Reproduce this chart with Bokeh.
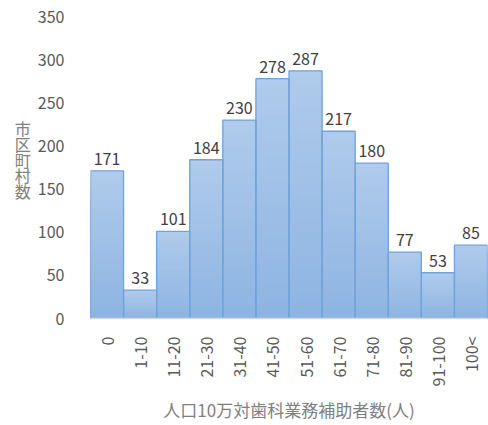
from bokeh.plotting import figure
from bokeh.models import FactorRange, Range1d, ColumnDataSource
from bokeh.embed import file_html
from bokeh.resources import INLINE
import math

categories = ["0", "1-10", "11-20", "21-30", "31-40", "41-50", "51-60",
              "61-70", "71-80", "81-90", "91-100", "100<"]
counts = [171, 33, 101, 184, 230, 278, 287, 217, 180, 77, 53, 85]
y_ticks = [0, 50, 100, 150, 200, 250, 300, 350]

JP = "Noto Sans CJK JP"
TICK = "#595959"
TITLE = "#808080"

p = figure(width=488, height=425, x_range=FactorRange(*categories),
           y_range=Range1d(0, 350), output_backend="svg",
           toolbar_location=None, min_border_left=90, min_border_right=1,
           min_border_top=16, min_border_bottom=105)
p.outline_line_color = None
p.xgrid.grid_line_color = None
p.ygrid.grid_line_color = None
p.background_fill_color = "white"

# vertical gradient per bar, lighter at the top and darker at the base;
# drawn tallest slice first so each shorter slice overlays the one below
top_rgb = (176, 203, 235)
bot_rgb = (141, 180, 226)
steps = 40
gx, gt, gc = [], [], []
for k in reversed(range(steps)):
    f1 = (k + 1) / steps
    fm = (k + 0.5) / steps
    r, g, b = (round(bot_rgb[j] + (top_rgb[j] - bot_rgb[j]) * fm) for j in range(3))
    for cat, v in zip(categories, counts):
        gx.append(cat)
        gt.append(v * f1)
        gc.append("#%02x%02x%02x" % (r, g, b))
p.vbar(x=gx, bottom=0, top=gt, width=1.0, fill_color=gc, line_color=None)
p.vbar(x=categories, top=counts, width=1.0, fill_color=None,
       line_color="#6fa3dc", line_width=1.3)

# value labels above each bar
src = ColumnDataSource(dict(x=categories, y=counts, t=[str(c) for c in counts]))
p.text(x="x", y="y", text="t", source=src, text_align="center",
       text_baseline="alphabetic", y_offset=-12, text_font_size="16px",
       text_color="#404040", text_font={"value": JP})

# axes
p.yaxis.ticker = y_ticks
p.yaxis.axis_line_color = None
p.yaxis.major_tick_line_color = None
p.yaxis.minor_tick_line_color = None
p.yaxis.major_label_text_font = JP
p.yaxis.major_label_text_font_size = "16px"
p.yaxis.major_label_text_color = TICK
p.yaxis.major_label_standoff = 20
# stacked vertical title (one character per line)
p.yaxis.axis_label = "市\n区\n町\n村\n数\n "
p.yaxis.axis_label_orientation = "horizontal"
p.yaxis.axis_label_text_font = JP
p.yaxis.axis_label_text_font_style = "normal"
p.yaxis.axis_label_text_font_size = "16px"
p.yaxis.axis_label_text_line_height = 0.66
p.yaxis.axis_label_text_color = TITLE
p.yaxis.axis_label_standoff = 4

p.xaxis.axis_line_color = "#d9d9d9"
p.xaxis.axis_line_width = 1.5
p.xaxis.major_tick_line_color = None
p.xaxis.minor_tick_line_color = None
p.xaxis.major_label_orientation = math.pi / 2
p.xaxis.major_label_text_font = JP
p.xaxis.major_label_text_font_size = "16px"
p.xaxis.major_label_text_color = TICK
p.xaxis.major_label_standoff = 12
p.xaxis.axis_label = "人口10万対歯科業務補助者数(人)"
p.xaxis.axis_label_text_font = JP
p.xaxis.axis_label_text_font_style = "normal"
p.xaxis.axis_label_text_font_size = "17px"
p.xaxis.axis_label_text_color = TITLE
p.xaxis.axis_label_standoff = 8

open("out.html", "w").write(file_html(p, INLINE))
